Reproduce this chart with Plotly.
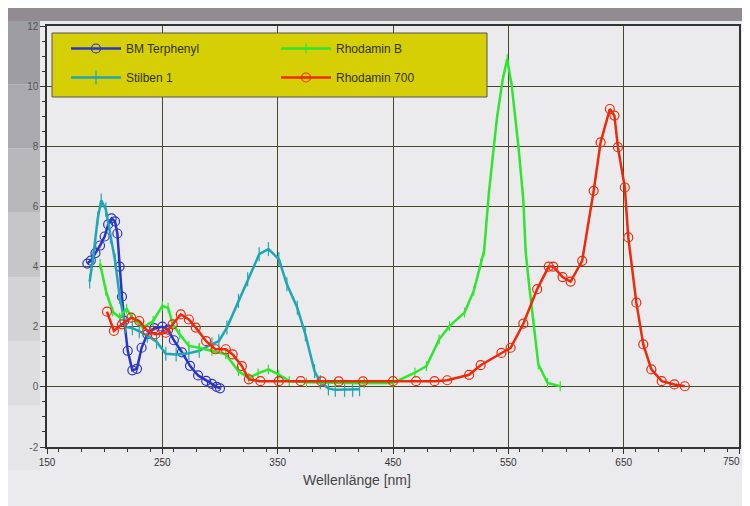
import plotly.graph_objects as go

# ---- data ----
terph_x = [185, 188, 192, 196, 200, 203, 206, 209, 211, 213, 215, 217, 220, 224, 228, 232, 237, 243, 250, 255, 260, 267, 274, 281, 288, 293, 297, 300]
terph_y = [4.1, 4.2, 4.45, 4.7, 5.0, 5.4, 5.6, 5.5, 5.1, 4.0, 3.0, 2.2, 1.2, 0.55, 0.6, 1.3, 1.75, 1.95, 2.0, 1.9, 1.55, 1.15, 0.7, 0.38, 0.2, 0.1, 0.0, -0.05]

stilben_x = [187, 190, 194, 197, 201, 205, 209, 213, 218, 224, 230, 237, 245, 253, 262, 273, 282, 293, 299, 306, 316, 324, 334, 342, 351, 358, 367, 374, 382, 387, 394, 400, 408, 415, 421]
stilben_y = [3.5, 4.3, 5.6, 6.2, 5.9, 5.0, 4.2, 3.0, 2.0, 1.95, 1.85, 1.7, 1.5, 1.1, 1.08, 1.12, 1.2, 1.42, 1.52, 1.97, 2.86, 3.58, 4.41, 4.58, 4.25, 3.41, 2.63, 1.75, 0.52, 0.15, -0.05, -0.1, -0.1, -0.1, -0.08]

rhodb_x = [196, 201, 207, 213, 219, 224, 233, 242, 250, 255, 259, 265, 273, 282, 293, 305, 316, 325, 333, 342, 351, 360, 375, 400, 425, 450, 469, 479, 490, 499, 512, 520, 526, 529, 533, 540, 545, 549, 553, 559, 563, 565, 568, 572, 576, 584, 595]
rhodb_y = [4.1, 3.2, 2.5, 2.3, 2.6, 2.3, 1.97, 2.19, 2.69, 2.63, 2.08, 1.75, 1.36, 1.3, 1.19, 1.08, 0.52, 0.3, 0.45, 0.58, 0.41, 0.19, 0.15, 0.13, 0.12, 0.13, 0.47, 0.69, 1.58, 2.02, 2.47, 3.19, 4.1, 4.52, 6.4, 8.9, 10.2, 10.9, 10.0, 7.9, 6.2, 4.5, 3.4, 2.08, 0.75, 0.13, 0.02]

rhod700_x = [202, 208, 215, 223, 230, 237, 244, 253, 259, 266, 273, 279, 288, 296, 305, 311, 319, 325, 335, 351, 370, 388, 403, 424, 450, 470, 486, 497, 516, 526, 544, 552, 563, 575, 585, 589, 597, 604, 614, 624, 630, 638, 642, 645, 651, 654, 661, 667, 674, 683, 694, 703]
rhod700_y = [2.5, 1.86, 2.08, 2.3, 2.19, 1.86, 1.75, 1.8, 2.08, 2.41, 2.24, 1.97, 1.52, 1.25, 1.25, 1.08, 0.69, 0.25, 0.19, 0.19, 0.19, 0.18, 0.18, 0.18, 0.19, 0.19, 0.19, 0.22, 0.4, 0.72, 1.13, 1.3, 2.1, 3.25, 4.0, 4.0, 3.65, 3.5, 4.19, 6.52, 8.13, 9.24, 9.02, 7.97, 6.63, 4.97, 2.8, 1.41, 0.58, 0.19, 0.08, 0.02]

x_ticks = [150, 250, 350, 450, 550, 650, 750]
y_ticks = [-2, 0, 2, 4, 6, 8, 10, 12]

# ---- figure ----
fig = go.Figure()

def add(x, y, name, color, symbol, size, legend, group):
    fig.add_trace(go.Scatter(
        x=x, y=y, name=name, mode="lines+markers",
        line=dict(color=color, width=2.5),
        marker=dict(symbol=symbol, size=size, color=color, line=dict(width=1.2, color=color)),
        legend=legend, legendgroup=group,
    ))

add(terph_x, terph_y, "BM Terphenyl", "#2a35c8", "circle-open", 9, "legend", "a")
add(stilben_x, stilben_y, "Stilben 1", "#20a6b2", "line-ns-open", 10, "legend", "b")
add(rhodb_x, rhodb_y, "Rhodamin B", "#2ee62e", "line-ns-open", 7, "legend2", "c")
add(rhod700_x, rhod700_y, "Rhodamin 700", "#ee2a08", "circle-open", 9, "legend2", "d")

# the page body adds an 8px margin around the figure
OFF = 8
W, H = 742, 498
L, R, T, B = 39, 11, 18, 59
pw, ph = W - L - R, H - T - B

def px_x(p):  # page pixel -> paper fraction
    return (p - OFF - L) / pw

def px_y(p):
    return 1 - (p - OFF - T) / ph

shapes = []
# background panel
shapes.append(dict(type="rect", xref="paper", yref="paper", x0=px_x(8), x1=px_x(750), y0=px_y(506), y1=px_y(8),
                   fillcolor="#ebebee", line=dict(width=0), layer="below"))
# left gradient strip
greys = ["#9e9ea2", "#aaaaae", "#b8b8bb", "#c6c6c9", "#d3d3d6", "#dedee1", "#e6e6e9"]
step = (470 - 20) / len(greys)
for i, g in enumerate(greys):
    shapes.append(dict(type="rect", xref="paper", yref="paper", x0=px_x(8), x1=px_x(40),
                       y0=px_y(20 + (i + 1) * step), y1=px_y(20 + i * step),
                       fillcolor=g, line=dict(width=0), layer="below"))
# top grey band
shapes.append(dict(type="rect", xref="paper", yref="paper", x0=px_x(8), x1=px_x(750), y0=px_y(21), y1=px_y(8),
                   fillcolor="#928c92", line=dict(width=0), layer="below"))
# legend box
shapes.append(dict(type="rect", xref="paper", yref="paper", x0=px_x(52), x1=px_x(487), y0=px_y(97), y1=px_y(33),
                   fillcolor="#d6cf06", line=dict(width=1, color="#555555"), layer="above"))

leg_common = dict(xanchor="left", yanchor="top", bgcolor="rgba(0,0,0,0)",
                  font=dict(size=12, color="#333300"), traceorder="grouped",
                  tracegroupgap=10, itemwidth=50)

# last x tick label is placed as an annotation so it stays inside the page
x_ticktext = [str(v) for v in x_ticks[:-1]] + [""]

fig.update_layout(
    width=W, height=H,
    margin=dict(l=L, r=R, t=T, b=B),
    paper_bgcolor="white",
    plot_bgcolor="#fdf48a",
    font=dict(family="Liberation Sans, Arial", color="#333333"),
    shapes=shapes,
    legend=dict(x=px_x(66), y=px_y(34), **leg_common),
    legend2=dict(x=px_x(276), y=px_y(34), **leg_common),
    annotations=[
        dict(text="Wellenlänge [nm]", xref="paper", yref="paper",
             x=px_x(357), y=px_y(480), xanchor="center", yanchor="middle",
             showarrow=False, font=dict(size=14, color="#444444")),
        dict(text=str(x_ticks[-1]), xref="paper", yref="paper",
             x=px_x(742), y=px_y(461), xanchor="right", yanchor="middle",
             showarrow=False, font=dict(size=10, color="#333333")),
    ],
)

fig.update_xaxes(
    range=[150, 750], tickvals=x_ticks, ticktext=x_ticktext,
    showgrid=True, gridcolor="#4a4628", gridwidth=1.2,
    showline=True, linecolor="#333333", linewidth=1.5, mirror=True,
    ticks="outside", ticklen=5, tickcolor="#333333",
    minor=dict(dtick=20, ticks="outside", ticklen=3, tickcolor="#333333", showgrid=False),
    tickfont=dict(size=10, color="#333333"), zeroline=False, automargin=False,
)
fig.update_yaxes(
    range=[-2, 12], tickvals=y_ticks, ticktext=[str(v) for v in y_ticks],
    showgrid=True, gridcolor="#4a4628", gridwidth=1.2,
    showline=True, linecolor="#333333", linewidth=1.5, mirror=True,
    ticks="outside", ticklen=5, tickcolor="#333333",
    minor=dict(dtick=0.5, ticks="outside", ticklen=3, tickcolor="#333333", showgrid=False),
    tickfont=dict(size=10, color="#555555"), zeroline=False, automargin=False,
)

fig.write_html("out.html")
